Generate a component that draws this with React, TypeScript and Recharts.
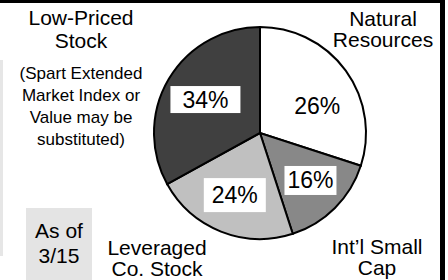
import { PieChart, Pie, Cell } from 'recharts';

// fund shares as drawn (clockwise from 12 o'clock)
const funds = ['Natural Resources', "Int'l Small Cap", 'Leveraged Co. Stock', 'Low-Priced Stock'];
const shares = [30, 15, 22, 33];
const pctLabels = ['26%', '16%', '24%', '34%'];
const sliceColors = ['#ffffff', '#888888', '#c0c0c0', '#404040'];

const noteLines = ['(Spart Extended', 'Market Index or', 'Value may be', 'substituted)'];
const asOfLines = ['As of', '3/15'];

const data = funds.map((name, i) => ({ name, value: shares[i], label: pctLabels[i] }));

const RADIAN = Math.PI / 180;
const FONT = '"Liberation Sans", Arial, sans-serif';

// small hand nudges so the percent boxes sit where the original put them
const nudge: [number, number, number, number][] = [
    [4, 12, 60, 30],
    [4, 1, 52, 29],
    [-1, 1, 62, 34],
    [2, 0, 70, 27],
];

const renderPct = (props: any) => {
    const { cx, cy, midAngle, outerRadius, index } = props;
    const r = outerRadius * 0.62;
    const [nx, ny, w, h] = nudge[index];
    const x = cx + r * Math.cos(-midAngle * RADIAN) + nx;
    const y = cy + r * Math.sin(-midAngle * RADIAN) + ny;
    return (
        <g key={`pct-${index}`}>
            <rect x={x - w / 2} y={y - h / 2} width={w} height={h} fill="#ffffff" />
            <text x={x} y={y} dy={8} textAnchor="middle" fontSize={23} fontFamily={FONT} fill="#000">
                {pctLabels[index]}
            </text>
        </g>
    );
};

// two-line name blocks: [fund index, centre x, first baseline, line step]
const nameSpots: [number, number, number, number][] = [
    [3, 81, 25, 23],
    [0, 383, 26, 21],
    [1, 377, 254, 21],
    [2, 157, 255, 21],
];

const splitName = (name: string) => {
    if (name === 'Low-Priced Stock') return ['Low-Priced', 'Stock'];
    if (name === 'Natural Resources') return ['Natural', 'Resources'];
    if (name === "Int'l Small Cap") return ['Int\u2019l Small', 'Cap'];
    return ['Leveraged', 'Co. Stock'];
};

const App = () => {
    return (
        <div style={{ position: 'absolute', left: 0, top: 0, width: 448, height: 280, background: '#fff' }}>
            <PieChart width={448} height={280} margin={{ top: 0, right: 0, bottom: 0, left: 0 }}>
                <rect x={0} y={60} width={3} height={196} fill="#e6e6e6" />
                <rect x={26} y={208} width={66} height={72} fill="#e4e4e4" />
                <Pie
                    data={data}
                    dataKey="value"
                    cx={260}
                    cy={133}
                    outerRadius={106}
                    startAngle={90}
                    endAngle={-270}
                    stroke="#000"
                    strokeWidth={2}
                    label={renderPct}
                    labelLine={false}
                    isAnimationActive={false}
                >
                    {data.map((d, i) => (
                        <Cell key={d.name} fill={sliceColors[i]} />
                    ))}
                </Pie>
                {nameSpots.map(([idx, x, y, step]) => (
                    <text key={funds[idx]} x={x} y={y} textAnchor="middle" fontSize={21} fontFamily={FONT} fill="#000">
                        {splitName(funds[idx]).map((line, j) => (
                            <tspan key={j} x={x} y={y + j * step}>{line}</tspan>
                        ))}
                    </text>
                ))}
                <text x={81} y={79} textAnchor="middle" fontSize={17} fontFamily={FONT} fill="#000">
                    {noteLines.map((line, j) => (
                        <tspan key={j} x={81} y={79 + j * 22}>{line}</tspan>
                    ))}
                </text>
                <text x={59} y={238} textAnchor="middle" fontSize={21} fontFamily={FONT} fill="#000">
                    {asOfLines.map((line, j) => (
                        <tspan key={j} x={59} y={238 + j * 25}>{line}</tspan>
                    ))}
                </text>
                <rect x={0} y={0} width={445} height={3} fill="#000" />
                <rect x={440} y={0} width={5} height={280} fill="#000" />
            </PieChart>
        </div>
    );
};

export default App;
